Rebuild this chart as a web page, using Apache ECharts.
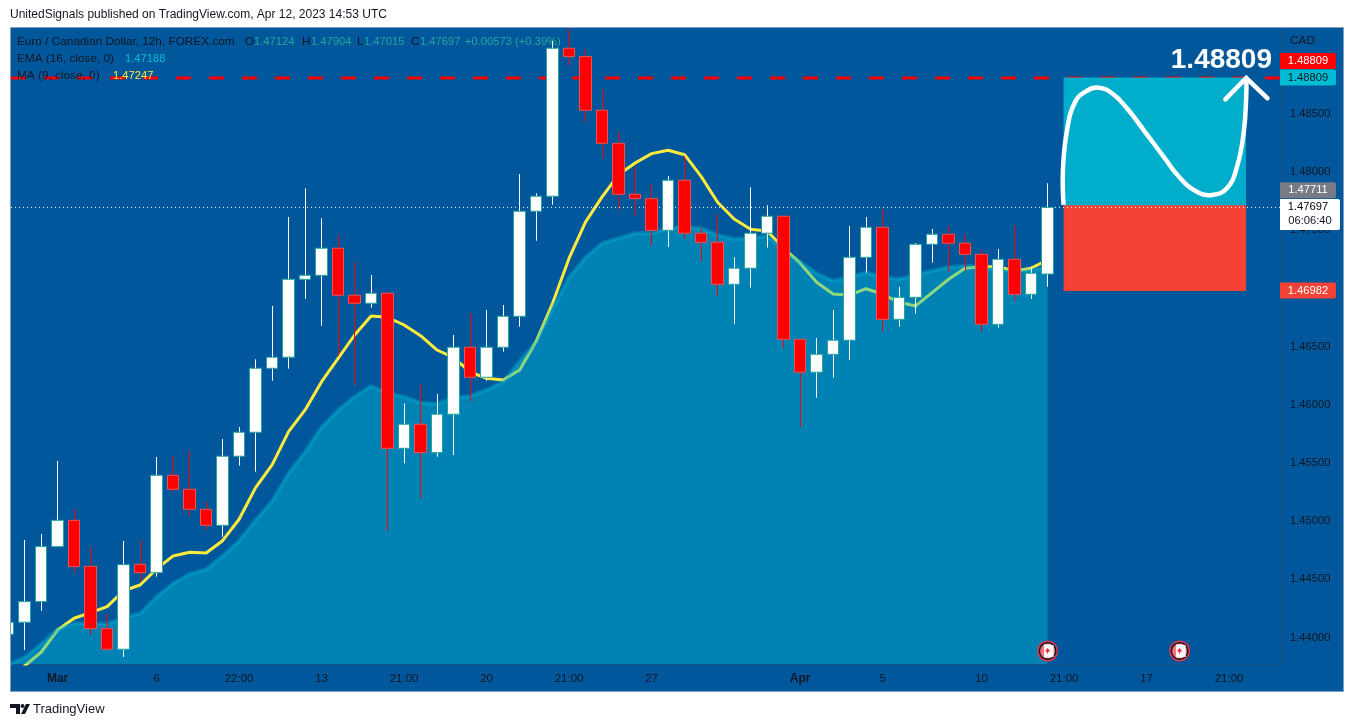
<!DOCTYPE HTML>
<html lang="en">
<head>
<title>EUR/CAD 12h</title>
<meta http-equiv="Content-Type" content="text/html; charset=utf-8" />
<style type="text/css">
html,body{
width:100%;
height:100%;
margin:0;
padding:0;
background:#fff;
}
</style>
</head>
<body>
<div id="container" style="width:1354px;height:727px"></div>
<script src="https://cdn.jsdelivr.net/npm/echarts@6/dist/echarts.min.js"></script>
<script>
// candles, one per 12h bar
var opens = [1.44028,1.44131,1.44308,1.44781,1.45007,1.44612,1.44076,1.43899,1.44629,1.44557,1.45394,1.45274,1.45102,1.44964,1.45558,1.45764,
  1.46314,1.46409,1.47079,1.47113,1.47346,1.46942,1.46873,1.46959,1.45626,1.45833,1.45589,1.45919,1.46495,1.46237,1.46495,1.46761,
  1.47664,1.47793,1.49065,1.48993,1.48532,1.48248,1.47810,1.47772,1.47500,1.47930,1.47475,1.47397,1.47036,1.47174,1.47475,1.47621,
  1.46563,1.46280,1.46434,1.46555,1.47268,1.47526,1.46735,1.46924,1.47380,1.47466,1.47389,1.47294,1.46692,1.47251,1.46950,1.47124];
var closes = [1.44131,1.44308,1.44781,1.45007,1.44609,1.44076,1.43899,1.44626,1.44557,1.45394,1.45274,1.45102,1.44964,1.45558,1.45764,1.46314,
  1.46409,1.47079,1.47113,1.47346,1.46942,1.46873,1.46959,1.45626,1.45833,1.45589,1.45919,1.46495,1.46237,1.46495,1.46761,1.47664,
  1.47793,1.49065,1.48993,1.48532,1.48248,1.47810,1.47772,1.47500,1.47930,1.47475,1.47397,1.47036,1.47174,1.47475,1.47621,1.46563,
  1.46280,1.46434,1.46555,1.47268,1.47526,1.46735,1.46924,1.47380,1.47466,1.47389,1.47294,1.46692,1.47251,1.46950,1.47131,1.47697];
var lows = [1.44028,1.43893,1.44230,1.44781,1.44557,1.44021,1.43887,1.43832,1.44480,1.44523,1.45253,1.45044,1.44924,1.44866,1.45477,1.45425,
  1.46207,1.46311,1.46912,1.46680,1.46420,1.46171,1.46835,1.44915,1.45497,1.45199,1.45554,1.45569,1.46027,1.46207,1.46457,1.46672,
  1.47411,1.47720,1.48919,1.48423,1.48116,1.47677,1.47629,1.47368,1.47357,1.47428,1.47236,1.46936,1.46697,1.47007,1.47351,1.46483,
  1.45807,1.46061,1.46233,1.46385,1.47136,1.46629,1.46672,1.46783,1.47222,1.47144,1.47153,1.46632,1.46663,1.46893,1.46910,1.47015];
var highs = [1.44131,1.44838,1.44890,1.45517,1.45102,1.44775,1.44202,1.44830,1.44838,1.45552,1.45560,1.45601,1.45167,1.45706,1.45809,1.46391,
  1.46850,1.47615,1.47861,1.47603,1.47457,1.47228,1.47116,1.46973,1.46013,1.46179,1.46093,1.46600,1.46787,1.46815,1.46858,1.47984,
  1.47818,1.49130,1.49230,1.49053,1.48712,1.48345,1.48042,1.47898,1.47967,1.48136,1.47520,1.47640,1.47268,1.47870,1.47715,1.47621,
  1.46563,1.46574,1.46815,1.47537,1.47615,1.47681,1.47015,1.47391,1.47511,1.47537,1.47469,1.47331,1.47340,1.47543,1.47187,1.47904];
var ma9 = [1.43635,1.43755,1.43873,1.44064,1.44165,1.44213,1.44265,1.44402,1.44451,1.44589,1.44701,1.44732,1.44726,1.44832,1.45016,1.45288,
  1.45483,1.45769,1.45956,1.46199,1.46400,1.46600,1.46764,1.46752,1.46686,1.46594,1.46471,1.46405,1.46282,1.46228,1.46213,1.46299,
  1.46543,1.46873,1.47260,1.47572,1.47787,1.47978,1.48079,1.48159,1.48188,1.48150,1.47964,1.47741,1.47597,1.47509,1.47494,1.47346,
  1.47217,1.47053,1.46953,1.46942,1.46998,1.46950,1.46881,1.46850,1.46964,1.47079,1.47174,1.47187,1.47187,1.47150,1.47174,1.47247];
var ema16 = [1.43764,1.43830,1.43944,1.44070,1.44122,1.44122,1.44116,1.44168,1.44208,1.44351,1.44466,1.44546,1.44586,1.44701,1.44832,1.45010,
  1.45173,1.45411,1.45597,1.45809,1.45956,1.46070,1.46162,1.46099,1.46070,1.46018,1.46007,1.46061,1.46076,1.46128,1.46199,1.46371,
  1.46543,1.46830,1.47096,1.47268,1.47389,1.47432,1.47475,1.47475,1.47518,1.47531,1.47518,1.47460,1.47426,1.47432,1.47454,1.47331,
  1.47230,1.47131,1.47067,1.47096,1.47139,1.47096,1.47082,1.47116,1.47153,1.47182,1.47196,1.47182,1.47159,1.47153,1.47159,1.47188];

// axis ticks
var timeTickIndex = [3,9,14,19,24,29,34,39,48,53,59,64,69,74];
var timeTickLabel = ['Mar','6','22:00','13','21:00','20','21:00','27','Apr','5','10','21:00','17','21:00'];
var priceTicks = [1.44,1.445,1.45,1.455,1.46,1.465,1.47,1.475,1.48,1.485];

// drawing: long position box and the hand drawn path, in bar index / price
var targetPrice = 1.48809, entryPrice = 1.47711, stopPrice = 1.46982, lastPrice = 1.47697;
var boxStart = 64, boxEnd = 75;
var pathIndex = [63.97,63.93,64.18,64.68,65.39,66.09,66.90,67.81,68.82,70.03,71.04,72.05,72.96,73.87,74.48,74.88,75.04,75.04];
var pathPrice = [1.47718,1.48019,1.48362,1.48606,1.48700,1.48726,1.48678,1.48549,1.48362,1.48133,1.47947,1.47832,1.47804,1.47861,1.48047,1.48334,1.48649,1.48809];
var arrowIndex = [73.77,75.04,76.33];
var arrowPrice = [1.48626,1.48809,1.48635];
var eventIndex = [63,71];
var eventPrice = 1.43884;

var xMin = 0.176, xMax = 77.085, yMin = 1.43772, yMax = 1.49239;

var wickData = [], bodyData = [], maData = [], emaData = [], pathData = [], arrowData = [], eventData = [];
for(var i=0;i<opens.length;i++){
  wickData.push([i,lows[i],highs[i],closes[i]>=opens[i]?1:0]);
  bodyData.push([i,opens[i],closes[i],Math.min(opens[i],closes[i]),Math.max(opens[i],closes[i])]);
  maData.push([i,ma9[i]]);
  emaData.push([i,ema16[i]]);
}
for(var i=0;i<pathIndex.length;i++) pathData.push([pathIndex[i],pathPrice[i]]);
for(var i=0;i<arrowIndex.length;i++) arrowData.push([arrowIndex[i],arrowPrice[i]]);
for(var i=0;i<eventIndex.length;i++) eventData.push([eventIndex[i],eventPrice]);

var FONT = '"Liberation Sans"';
var INK = '#131722';
var BG = '#01579b';
var DIVIDER = '#1d4f80';

function hline(price,z,style){
  return {type:'line',z:z,symbol:'none',silent:true,animation:false,
    data:[[xMin,price],[xMax,price]],lineStyle:style};
}

var dom = document.getElementById("container");
var myChart = echarts.init(dom,null,{renderer:'canvas'});
var option = {
  animation:false,
  backgroundColor:'#ffffff',
  textStyle:{fontFamily:FONT},
  grid:{left:11,top:28,width:1269,height:636,show:true,backgroundColor:BG,borderWidth:0},
  xAxis:{
    type:'value',min:xMin,max:xMax,
    splitLine:{show:false},axisTick:{show:false},
    axisLine:{show:true,onZero:false,lineStyle:{color:DIVIDER,width:1}},
    axisLabel:{
      customValues:timeTickIndex,margin:9,color:INK,fontSize:11.5,fontFamily:FONT,
      formatter:function(v){
        var s = timeTickLabel[timeTickIndex.indexOf(v)];
        return (s=='Mar'||s=='Apr') ? '{b|'+s+'}' : s;
      },
      rich:{b:{fontWeight:'bold',fontSize:12,color:INK,fontFamily:FONT}}
    }
  },
  yAxis:{
    type:'value',position:'right',min:yMin,max:yMax,scale:true,
    splitLine:{show:false},axisTick:{show:false},
    axisLine:{show:true,onZero:false,lineStyle:{color:DIVIDER,width:1}},
    axisLabel:{
      customValues:priceTicks,margin:10,color:INK,fontSize:11.2,fontFamily:FONT,
      formatter:function(v){return v.toFixed(5);}
    }
  },
  series:[
    hline(targetPrice,1,{color:'#ff0000',width:3,type:[15,18]}),
    {type:'line',z:2,symbol:'none',silent:true,data:maData,lineStyle:{color:'#ffeb3b',width:3}},
    {type:'line',z:3,symbol:'none',silent:true,data:emaData,
      lineStyle:{color:'#00bcd4',width:4,opacity:0.35},
      areaStyle:{color:'#00bcd4',opacity:0.44,origin:'start'}},
    // position box, target part then stop part
    {type:'custom',z:3,silent:true,
      data:[[boxStart,boxEnd,targetPrice,entryPrice],[boxStart,boxEnd,entryPrice,stopPrice]],
      encode:{x:[0,1],y:[2,3]},
      renderItem:function(params,api){
        var a = api.coord([api.value(0),api.value(2)]);
        var b = api.coord([api.value(1),api.value(3)]);
        var c = params.dataIndex==0?'#00aecb':'#f44336';
        return {type:'rect',shape:{x:a[0],y:a[1],width:b[0]-a[0],height:b[1]-a[1]},
          style:{fill:c,stroke:c,lineWidth:1}};
      }
    },
    hline(lastPrice,4,{color:'#ffffff',width:1,type:[1,3]}),
    // wicks keep the candle colour, the bodies have their own border
    {type:'custom',z:5,silent:true,data:wickData,encode:{x:0,y:[1,2]},
      renderItem:function(params,api){
        var low = api.coord([api.value(0),api.value(1)]);
        var high = api.coord([api.value(0),api.value(2)]);
        var x = Math.floor(low[0])+0.5;
        return {type:'line',shape:{x1:x,y1:low[1],x2:x,y2:high[1]},
          style:{stroke:api.value(3)==1?'#ffffff':'#ff0000',lineWidth:1}};
      }
    },
    {type:'candlestick',z:5,silent:true,barWidth:12,data:bodyData,encode:{x:0,y:[1,2,3,4]},
      itemStyle:{color:'#ffffff',color0:'#ff0000',borderColor:'#26a69a',borderColor0:'#ef5350',borderWidth:1}},
    {type:'custom',z:6,silent:true,data:pathData,encode:{x:0,y:1},
      renderItem:function(params,api){
        if(params.dataIndex>0) return null;
        var pts = [];
        for(var i=0;i<pathData.length;i++) pts.push(api.coord(pathData[i]));
        return {type:'polyline',shape:{points:pts,smooth:0.45},
          style:{stroke:'#ffffff',lineWidth:4.5,fill:null}};
      }
    },
    {type:'line',z:6,symbol:'none',silent:true,data:arrowData,
      lineStyle:{color:'#ffffff',width:4.5,cap:'round',join:'miter'}},
    {type:'custom',z:7,silent:true,data:eventData,encode:{x:0,y:1},
      renderItem:function(params,api){
        var p = api.coord([api.value(0),api.value(1)]);
        var leaf = {fill:'#e8283c'};
        return {type:'group',x:p[0],y:p[1],children:[
          {type:'circle',shape:{cx:0,cy:0,r:10.5},style:{fill:'#e4364d'}},
          {type:'circle',shape:{cx:0,cy:0,r:9},style:{fill:'#131722'}},
          {type:'circle',shape:{cx:0,cy:0,r:7.5},style:{fill:'#f4747c'}},
          {type:'rect',shape:{x:-3.5,y:-6.6,width:7,height:13.2},style:{fill:'#ffffff'}},
          {type:'rect',shape:{x:3.5,y:-6,width:2.5,height:12},style:{fill:'#ffffff'}},
          {type:'polygon',shape:{points:[[0,-3],[2.6,0.4],[0.6,0.8],[0.6,2.6],[-0.6,2.6],[-0.6,0.8],[-2.6,0.4]]},style:leaf}
        ]};
      }
    }
  ]
};
myChart.setOption(option,true);

// price scale labels and header texts, placed through the chart's own scale
function priceY(v){ return myChart.convertToPixel({yAxisIndex:0},v); }
function tag(y,w,fill,text,color){
  return [
    {type:'rect',z:20,shape:{x:1280,y:y-8,width:w,height:16,r:[0,2,2,0]},style:{fill:fill}},
    {type:'text',z:21,x:1308,y:y,style:{text:text,fill:color,font:'11.2px '+FONT,textAlign:'center',textVerticalAlign:'middle'}}
  ];
}
function label(x,y,text,color,font,align){
  return {type:'text',z:22,x:x,y:y,style:{text:text,fill:color,font:font||('11.8px '+FONT),textAlign:align||'left',textVerticalAlign:'middle'}};
}
var targetY = priceY(targetPrice);
var TEAL = '#26a69a';
var VALUE = '11.2px '+FONT;
var g = [
  // panel behind the scales and the border
  {type:'rect',z:-1,shape:{x:10.5,y:27.5,width:1333,height:664},style:{fill:BG,stroke:'#7f9fc0',lineWidth:1}},
  // keeps the clipped first candle out of the margin
  {type:'rect',z:30,shape:{x:0,y:28,width:10,height:664},style:{fill:'#ffffff'}},
  {type:'line',z:31,shape:{x1:10.5,y1:27.5,x2:10.5,y2:691.5},style:{stroke:'#7f9fc0',lineWidth:1}},
  label(10,14.5,'UnitedSignals published on TradingView.com, Apr 12, 2023 14:53 UTC',INK,'12px '+FONT),
  label(17,42,'Euro / Canadian Dollar, 12h, FOREX.com',INK),
  label(245,42,'O',INK),label(254,42,'1.47124',TEAL,VALUE),
  label(302,42,'H',INK),label(311,42,'1.47904',TEAL,VALUE),
  label(357,42,'L',INK),label(364,42,'1.47015',TEAL,VALUE),
  label(411,42,'C',INK),label(420,42,'1.47697',TEAL,VALUE),
  label(465,42,'+0.00573 (+0.39%)',TEAL,VALUE),
  label(17,59,'EMA (16, close, 0)',INK),label(125,59,'1.47188','#00bcd4',VALUE),
  label(17,76,'MA (9, close, 0)',INK),label(113,76,'1.47247','#ffeb3b',VALUE),
  label(1290,41,'CAD',INK),
  label(1272,60.5,'1.48809','#ffffff','bold 28px '+FONT,'right'),
  // logo and name below the chart
  {type:'polygon',shape:{points:[[10,704],[20,704],[20,714],[16,714],[16,708],[10,708]]},style:{fill:INK}},
  {type:'circle',shape:{cx:22.5,cy:706,r:2},style:{fill:INK}},
  {type:'polygon',shape:{points:[[26,704],[30,704],[25,714],[21,714]]},style:{fill:INK}},
  label(33,709,'TradingView',INK,'13px '+FONT)
];
g = g.concat(tag(priceY(entryPrice)-15.5,56,'#787b86','1.47711','#ffffff'));
g = g.concat(tag(targetY-17,56,'#ff0000','1.48809','#ffffff'));
g = g.concat(tag(targetY-0.5,56,'#00bcd4','1.48809',INK));
g = g.concat(tag(priceY(stopPrice),56,'#f44336','1.46982','#ffffff'));
// last price box with the countdown
g.push({type:'rect',z:20,shape:{x:1280,y:199,width:60,height:31,r:[0,2,2,0]},style:{fill:'#ffffff'}});
g.push(label(1308,207,'1.47697','#000000',VALUE,'center'));
g.push(label(1310,221,'06:06:40',INK,VALUE,'center'));
myChart.setOption({graphic:g});
</script>
</body>
</html>
